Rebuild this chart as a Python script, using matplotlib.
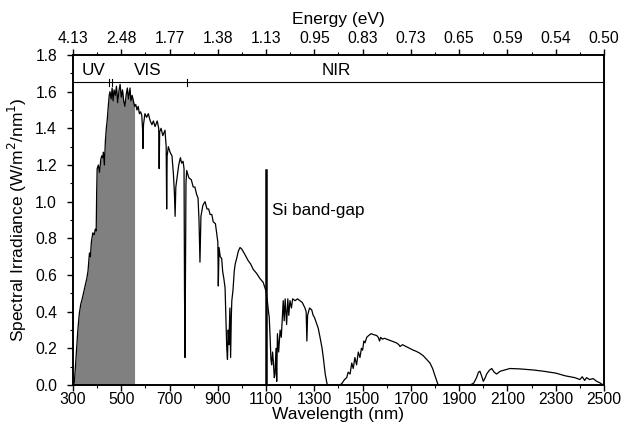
import numpy as np
import matplotlib
matplotlib.use('Agg')
import matplotlib.pyplot as plt
from matplotlib.ticker import MultipleLocator

plt.rcParams['font.family'] = ['Liberation Sans', 'DejaVu Sans']

# solar spectrum (nm, W/m2/nm)
wl = [300, 305, 310, 315, 320, 326, 332, 338, 343, 350, 357, 362, 368, 372, 376, 382, 388, 392, 396, 398,
      400, 405, 410, 415, 419, 423, 426, 430, 434, 438, 442, 446, 450, 453, 458, 462, 466, 470, 475, 480,
      485, 490, 495, 500, 505, 510, 515, 520, 525, 530, 536, 540, 545, 550, 555, 560, 565, 570, 575, 580,
      585, 588, 590, 592, 598, 605, 612, 620, 627, 633, 640, 649, 655, 657, 659, 665, 672, 681, 686, 688,
      690, 695, 702, 710, 716, 720, 723, 726, 730, 738, 745, 750, 756, 760, 762, 764, 766, 768, 771, 780,
      790, 798, 805, 812, 818, 822, 826, 830, 838, 847, 855, 862, 868, 875, 881, 890, 896, 900, 902, 905,
      910, 916, 920, 925, 930, 934, 937, 940, 943, 946, 950, 953, 956, 958, 963, 968, 972, 978, 985, 992,
      1000, 1013, 1025, 1036, 1047, 1060, 1075, 1088, 1095, 1100, 1105, 1110, 1113, 1117, 1120, 1123, 1127, 1130, 1134, 1137,
      1141, 1144, 1147, 1152, 1158, 1163, 1168, 1171, 1175, 1179, 1182, 1185, 1190, 1194, 1199, 1205, 1210, 1220, 1230, 1240,
      1250, 1261, 1266, 1269, 1272, 1280, 1289, 1295, 1300, 1308, 1316, 1325, 1332, 1337, 1345, 1352, 1355, 1406, 1415, 1425,
      1434, 1440, 1448, 1455, 1461, 1468, 1475, 1482, 1489, 1495, 1500, 1505, 1510, 1517, 1525, 1535, 1545, 1558, 1565, 1570,
      1575, 1582, 1590, 1600, 1610, 1620, 1630, 1640, 1650, 1655, 1665, 1680, 1695, 1710, 1720, 1735, 1751, 1765, 1779, 1790,
      1800, 1808, 1813, 1945, 1960, 1972, 1980, 1986, 1993, 2000, 2008, 2014, 2025, 2035, 2045, 2055, 2070, 2083, 2095, 2110,
      2150, 2207, 2250, 2300, 2340, 2380, 2400, 2410, 2420, 2428, 2440, 2455, 2470, 2483, 2497]
irr = [0.0, 0.01, 0.1, 0.2, 0.3, 0.39, 0.44, 0.47, 0.50, 0.54, 0.58, 0.62, 0.72, 0.70, 0.78, 0.83, 0.82, 0.85, 0.84, 1.05,
       1.18, 1.20, 1.16, 1.23, 1.25, 1.24, 1.27, 1.20, 1.33, 1.40, 1.45, 1.52, 1.58, 1.60, 1.56, 1.62, 1.55, 1.61, 1.58, 1.63,
       1.54, 1.60, 1.64, 1.57, 1.61, 1.55, 1.52, 1.58, 1.62, 1.56, 1.62, 1.55, 1.58, 1.55, 1.52, 1.53, 1.50, 1.52, 1.48, 1.49,
       1.47, 1.40, 1.29, 1.42, 1.48, 1.46, 1.48, 1.44, 1.42, 1.44, 1.41, 1.44, 1.40, 1.18, 1.38, 1.40, 1.36, 1.39, 1.30, 0.96,
       1.25, 1.30, 1.27, 1.25, 1.15, 1.05, 0.92, 1.08, 1.12, 1.20, 1.24, 1.21, 1.22, 1.18, 0.50, 0.15, 0.60, 1.10, 1.17, 1.13,
       1.12, 1.08, 1.08, 1.04, 1.02, 0.90, 0.67, 0.92, 0.98, 1.00, 0.96, 0.96, 0.93, 0.93, 0.89, 0.88, 0.82, 0.78, 0.54, 0.75,
       0.70, 0.69, 0.62, 0.58, 0.53, 0.35, 0.20, 0.14, 0.30, 0.22, 0.42, 0.15, 0.38, 0.46, 0.52, 0.62, 0.66, 0.69, 0.73, 0.75,
       0.74, 0.71, 0.68, 0.66, 0.63, 0.61, 0.58, 0.56, 0.53, 0.51, 0.46, 0.40, 0.37, 0.25, 0.14, 0.11, 0.18, 0.13, 0.04, 0.06,
       0.20, 0.02, 0.28, 0.18, 0.30, 0.26, 0.38, 0.46, 0.35, 0.47, 0.40, 0.33, 0.47, 0.38, 0.46, 0.42, 0.47, 0.46, 0.47, 0.46,
       0.45, 0.42, 0.40, 0.24, 0.38, 0.42, 0.41, 0.38, 0.37, 0.34, 0.31, 0.25, 0.20, 0.15, 0.06, 0.01, 0.0, 0.0, 0.01, 0.03,
       0.04, 0.07, 0.06, 0.12, 0.09, 0.15, 0.11, 0.18, 0.15, 0.20, 0.19, 0.24, 0.23, 0.26, 0.27, 0.28, 0.275, 0.27, 0.26, 0.24,
       0.26, 0.25, 0.255, 0.25, 0.245, 0.24, 0.235, 0.23, 0.22, 0.21, 0.22, 0.21, 0.20, 0.19, 0.185, 0.175, 0.16, 0.14, 0.12, 0.09,
       0.05, 0.02, 0.0, 0.0, 0.01, 0.04, 0.07, 0.075, 0.05, 0.02, 0.04, 0.06, 0.08, 0.09, 0.07, 0.06, 0.075, 0.08, 0.085, 0.09,
       0.088, 0.082, 0.075, 0.065, 0.05, 0.04, 0.03, 0.045, 0.025, 0.04, 0.03, 0.035, 0.02, 0.012, 0.0]

wl_ticks = [300, 500, 700, 900, 1100, 1300, 1500, 1700, 1900, 2100, 2300, 2500]
energy_labels = ['4.13', '2.48', '1.77', '1.38', '1.13', '0.95', '0.83', '0.73', '0.65', '0.59', '0.54', '0.50']

band_edges = [450, 461, 771]   # marks on the UV / VIS / NIR line
band_names = ['UV', 'VIS', 'NIR']
band_text_x = [383, 611, 1390]
fill_end = 555
si_gap = 1100

wl = np.array(wl)
irr = np.array(irr)

fig = plt.figure(figsize=(6.22, 4.23), dpi=100)
ax = fig.add_axes([0.1174, 0.0898, 0.8536, 0.7802])

ax.fill_between(wl, 0, irr, where=wl <= fill_end, color='#808080', lw=0)
ax.plot(wl, irr, color='black', lw=0.9)

# silicon band gap
ax.plot([si_gap, si_gap], [0, 1.17], color='black', lw=1.8)
ax.text(si_gap + 24, 0.95, 'Si band-gap', fontsize=12.3, va='center', ha='left')

# spectral region bar
ax.plot([300, 2490], [1.65, 1.65], color='black', lw=0.8)
for e in band_edges:
    ax.plot([e, e], [1.63, 1.67], color='black', lw=0.8)
for name, x in zip(band_names, band_text_x):
    ax.text(x, 1.715, name, fontsize=12.3, ha='center', va='center')

ax.set_xlim(300, 2500)
ax.set_ylim(0, 1.8)
ax.set_xticks(wl_ticks)
ax.xaxis.set_minor_locator(MultipleLocator(100))
ax.yaxis.set_major_locator(MultipleLocator(0.2))
ax.yaxis.set_minor_locator(MultipleLocator(0.1))
ax.yaxis.set_major_formatter(matplotlib.ticker.FormatStrFormatter('%.1f'))
ax.tick_params(which='major', direction='out', length=4.5, width=1, labelsize=11.3, pad=0.5)
ax.tick_params(which='minor', direction='out', length=2.5, width=0.8)
ax.tick_params(axis='y', which='major', pad=7)
ax.tick_params(axis='y', right=False)
ax.set_xlabel('Wavelength (nm)', fontsize=12.5, labelpad=0)
ax.set_ylabel('Spectral Irradiance (W/m$^2$/nm$^1$)', fontsize=12.5, labelpad=4)

top = ax.twiny()
top.set_xlim(300, 2500)
top.set_xticks(wl_ticks)
top.set_xticklabels(energy_labels)
top.xaxis.set_minor_locator(MultipleLocator(100))
top.tick_params(which='major', direction='out', length=4.5, width=1, labelsize=11.3, pad=2)
top.tick_params(which='minor', direction='out', length=2.5, width=0.8)
top.set_xlabel('Energy (eV)', fontsize=12.5, labelpad=5)

for a in (ax, top):
    for s in a.spines.values():
        s.set_linewidth(1.2)

fig.savefig('out.png', dpi=100)
